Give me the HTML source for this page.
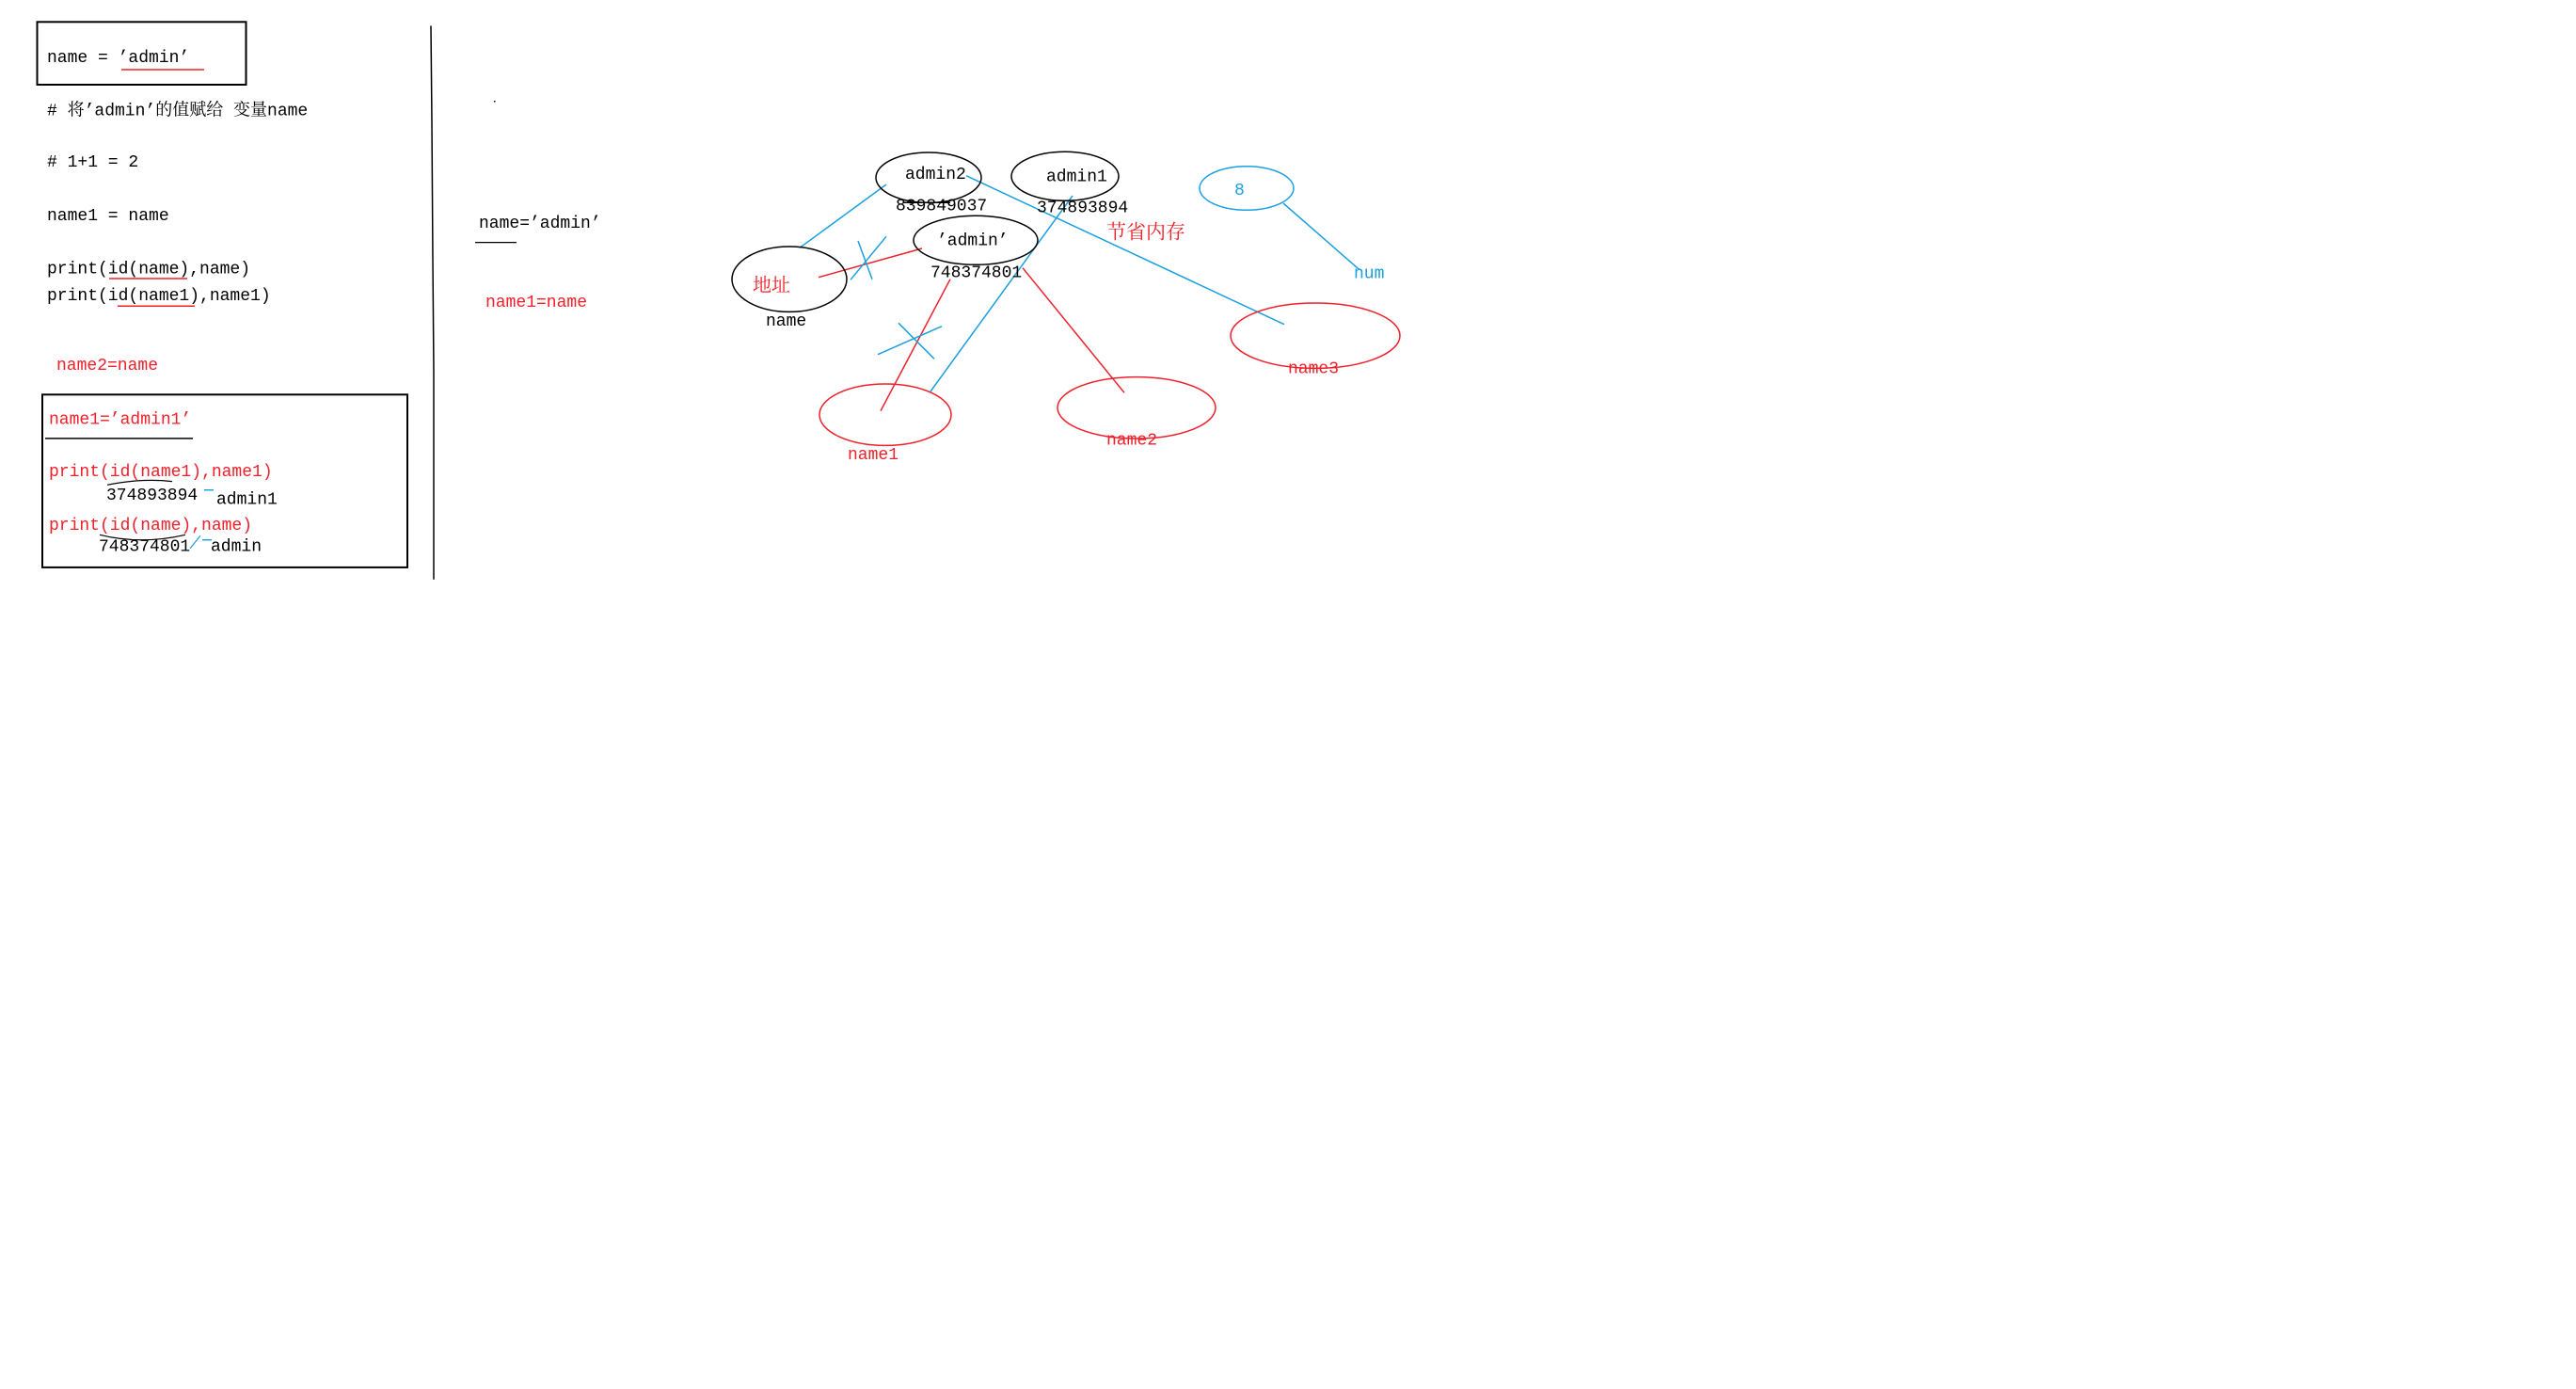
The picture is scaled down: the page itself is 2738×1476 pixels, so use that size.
<!DOCTYPE html>
<html><head><meta charset="utf-8"><style>
html,body{margin:0;padding:0;background:#fff;width:2738px;height:1476px;overflow:hidden}
svg{display:block}
text{font-family:"Liberation Mono","Noto Serif CJK SC",monospace;font-size:18px}
.k{fill:#000}.r{fill:#f0202a}.b{fill:#1aa0e0}
</style></head><body>
<svg width="2738" height="1476" viewBox="0 0 2738 1476">
<g>
<rect x="39.5" y="23.3" width="222" height="66.7" fill="none" stroke="#000" stroke-width="2"/>
<text class="k" x="50" y="65.8">name = ’admin’</text>
<line x1="129" y1="74" x2="217" y2="74" stroke="#f0202a" stroke-width="1.5"/>
<text class="k" x="50" y="122.4"># 将’admin’的值赋给 变量name</text>
<text class="k" x="50" y="177.2"># 1+1 = 2</text>
<text class="k" x="50" y="233.9">name1 = name</text>
<text class="k" x="50" y="290.5">print(id(name),name)</text>
<line x1="116" y1="296" x2="199" y2="296" stroke="#f0202a" stroke-width="1.5"/>
<text class="k" x="50" y="318.8">print(id(name1),name1)</text>
<line x1="125" y1="325.2" x2="207" y2="325.2" stroke="#f0202a" stroke-width="1.5"/>
<text class="r" x="60" y="392.8">name2=name</text>
<rect x="45" y="419.3" width="388" height="183.6" fill="none" stroke="#000" stroke-width="2"/>
<text class="r" x="52" y="450.4">name1=’admin1’</text>
<line x1="48" y1="465.9" x2="205" y2="465.9" stroke="#000" stroke-width="1.5"/>
<text class="r" x="52" y="506.1">print(id(name1),name1)</text>
<text class="k" x="113" y="530.8">374893894</text>
<path d="M114 515.3 Q150 508 183 511.6" fill="none" stroke="#000" stroke-width="1.2"/>
<line x1="217" y1="520.7" x2="227" y2="520.7" stroke="#1aa0e0" stroke-width="1.5"/>
<text class="k" x="230" y="535.4">admin1</text>
<text class="r" x="52" y="562.8">print(id(name),name)</text>
<path d="M106 568.3 Q150 579.2 197 568.3" fill="none" stroke="#000" stroke-width="1.2"/>
<text class="k" x="105" y="585.6">748374801</text>
<line x1="202" y1="582.9" x2="213" y2="569.2" stroke="#1aa0e0" stroke-width="1.2"/>
<line x1="215" y1="573.7" x2="225" y2="573.7" stroke="#1aa0e0" stroke-width="1.5"/>
<text class="k" x="224" y="585.6">admin</text>
</g>
<path d="M458 27.4 L459 128 L460 274 L461 393 L461 615.8" fill="none" stroke="#000" stroke-width="1.5"/>
<g>
<text class="k" x="509" y="242.1">name=’admin’</text>
<line x1="505" y1="257.6" x2="549" y2="257.6" stroke="#000" stroke-width="1.2"/>
<text class="r" x="516" y="326.2">name1=name</text>
<rect x="525" y="107" width="1.5" height="1.5" fill="#000"/>
</g>
<g>
<g stroke-width="1.5" fill="none">
<line x1="942" y1="196" x2="850" y2="263.3" stroke="#1aa0e0"/>
<line x1="870" y1="294.7" x2="980" y2="264" stroke="#f0202a"/>
<line x1="942" y1="251.3" x2="904" y2="297.3" stroke="#1aa0e0"/>
<line x1="912" y1="256" x2="927" y2="296.7" stroke="#1aa0e0"/>
<line x1="1027" y1="186.7" x2="1365" y2="344.7" stroke="#1aa0e0"/>
<line x1="1140" y1="208" x2="989" y2="416" stroke="#1aa0e0"/>
<line x1="1364" y1="216" x2="1445" y2="286.7" stroke="#1aa0e0"/>
<line x1="1010" y1="296.7" x2="936" y2="436.7" stroke="#f0202a"/>
<line x1="1087" y1="284.7" x2="1195" y2="417.3" stroke="#f0202a"/>
<line x1="933" y1="376.7" x2="1001" y2="346.7" stroke="#1aa0e0"/>
<line x1="955" y1="343.3" x2="993" y2="381.3" stroke="#1aa0e0"/>
<ellipse cx="987" cy="188.7" rx="56" ry="26.7" stroke="#000"/>
<ellipse cx="1132" cy="187.3" rx="57" ry="26" stroke="#000"/>
<ellipse cx="1325" cy="200" rx="50" ry="23.3" stroke="#1aa0e0"/>
<ellipse cx="1037" cy="255.3" rx="66" ry="26" stroke="#000"/>
<ellipse cx="839" cy="296.7" rx="61" ry="34.7" stroke="#000"/>
<ellipse cx="941" cy="440.7" rx="70" ry="32.7" stroke="#f0202a"/>
<ellipse cx="1208" cy="433.3" rx="84" ry="32.7" stroke="#f0202a"/>
<ellipse cx="1398" cy="356.7" rx="90" ry="34.7" stroke="#f0202a"/>
<line x1="960" y1="215.3" x2="1010" y2="215.3" stroke="#000"/>
</g>
<text class="k" x="962" y="190">admin2</text>
<text class="k" x="952" y="223.3">839849037</text>
<text class="k" x="1112" y="192.7">admin1</text>
<text class="k" x="1102" y="225.3">374893894</text>
<text class="b" x="1312" y="207" style="font-size:18px">8</text>
<text class="r" x="1176" y="253.3" style="font-size:21px">节省内存</text>
<text class="k" x="996" y="260.7">’admin’</text>
<text class="k" x="989" y="294.7">748374801</text>
<text class="r" x="800" y="309.3" style="font-size:20px">地址</text>
<text class="k" x="814" y="346">name</text>
<text class="b" x="1439" y="295.3">num</text>
<text class="r" x="901" y="488">name1</text>
<text class="r" x="1176" y="472.7">name2</text>
<text class="r" x="1369" y="396.7">name3</text>
</g>
</svg>
</body></html>
